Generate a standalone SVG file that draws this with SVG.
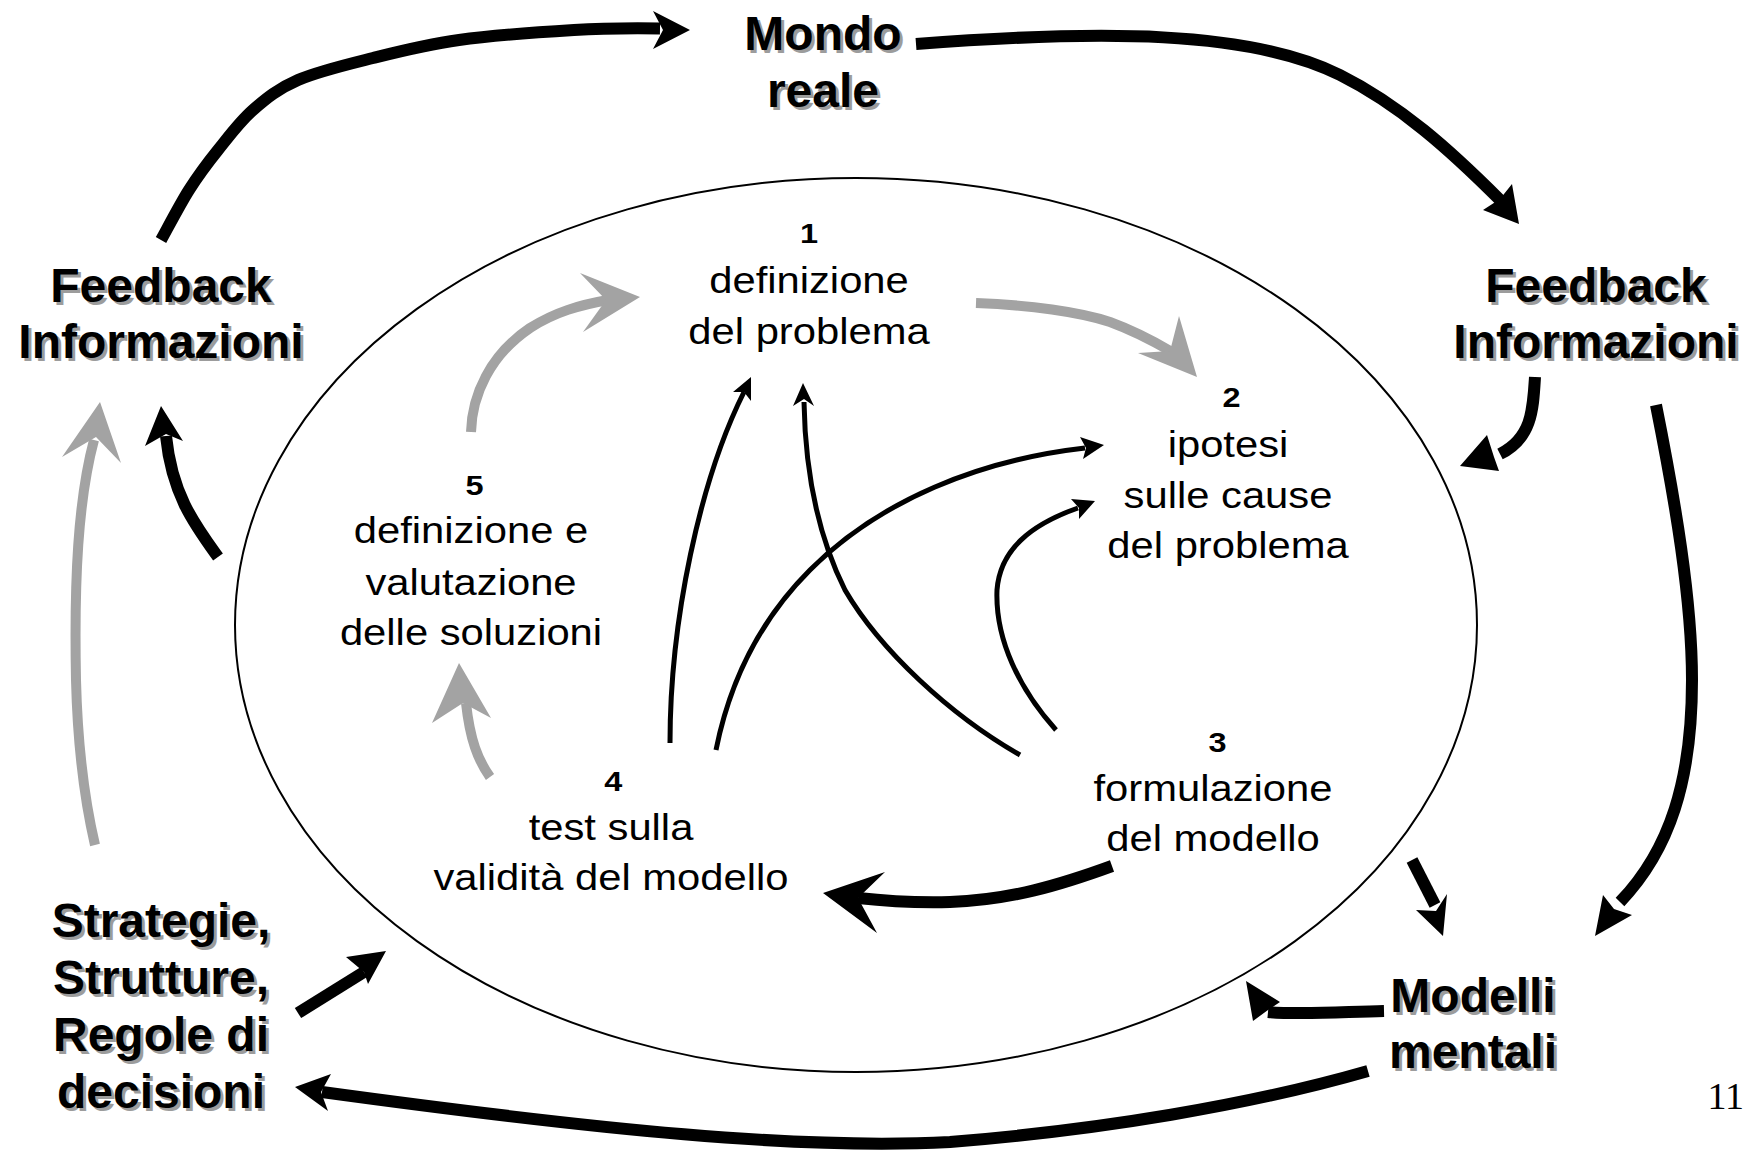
<svg xmlns="http://www.w3.org/2000/svg" width="1753" height="1150" viewBox="0 0 1753 1150">
  <style>
    .lbl { font-family: "Liberation Sans", Arial, sans-serif; font-weight: bold; font-size: 48px; text-anchor: middle; fill: #000; }
    .sh { fill: #9c9c9c; }
    .txt { font-family: "Liberation Sans", Arial, sans-serif; font-size: 36px; text-anchor: middle; fill: #000; }
    .num { font-weight: bold; font-size: 28px; }
    .blk { fill: none; stroke: #000; stroke-width: 12; }
    .gry { fill: none; stroke: #a3a3a3; stroke-width: 10; }
    .thin { fill: none; stroke: #000; stroke-width: 5; }
    .hb { fill: #000; }
    .hg { fill: #a3a3a3; }
    .pg { font-family: "Liberation Serif", "Times New Roman", serif; font-size: 38px; text-anchor: end; fill: #000; }
  </style>

  <rect width="1753" height="1150" fill="#fff"/>

  <!-- central process ellipse -->
  <ellipse id="cycle" cx="856" cy="625" rx="621" ry="447" fill="none" stroke="#000" stroke-width="2"/>

  <!-- outer labels -->
  <g id="mondo-reale">
    <text class="lbl sh" x="826" y="53">Mondo<tspan x="826" y="110">reale</tspan></text>
    <text class="lbl" x="823" y="50">Mondo<tspan x="823" y="107">reale</tspan></text>
  </g>
  <g id="feedback-left">
    <text class="lbl sh" x="164" y="305">Feedback<tspan x="164" y="361">Informazioni</tspan></text>
    <text class="lbl" x="161" y="302">Feedback<tspan x="161" y="358">Informazioni</tspan></text>
  </g>
  <g id="feedback-right">
    <text class="lbl sh" x="1599" y="305">Feedback<tspan x="1599" y="361">Informazioni</tspan></text>
    <text class="lbl" x="1596" y="302">Feedback<tspan x="1596" y="358">Informazioni</tspan></text>
  </g>
  <g id="strategie">
    <text class="lbl sh" x="164" y="940">Strategie,<tspan x="164" y="997">Strutture,</tspan><tspan x="164" y="1054">Regole di</tspan><tspan x="164" y="1111">decisioni</tspan></text>
    <text class="lbl" x="161" y="937">Strategie,<tspan x="161" y="994">Strutture,</tspan><tspan x="161" y="1051">Regole di</tspan><tspan x="161" y="1108">decisioni</tspan></text>
  </g>
  <g id="modelli-mentali">
    <text class="lbl sh" x="1476" y="1015">Modelli<tspan x="1476" y="1071">mentali</tspan></text>
    <text class="lbl" x="1473" y="1012">Modelli<tspan x="1473" y="1068">mentali</tspan></text>
  </g>

  <!-- process steps (wide Arial) -->
  <g id="step1" transform="translate(809,0)">
    <text class="txt num" transform="scale(1.16,1)" x="0" y="243">1</text>
    <text class="txt" transform="scale(1.16,1)" x="0" y="293">definizione<tspan x="0" y="344">del problema</tspan></text>
  </g>
  <g id="step2" transform="translate(1228,0)">
    <text class="txt num" transform="scale(1.16,1)" x="3" y="407">2</text>
    <text class="txt" transform="scale(1.16,1)" x="0" y="457">ipotesi<tspan x="0" y="508">sulle cause</tspan><tspan x="0" y="558">del problema</tspan></text>
  </g>
  <g id="step3" transform="translate(1213,0)">
    <text class="txt num" transform="scale(1.16,1)" x="4" y="752">3</text>
    <text class="txt" transform="scale(1.16,1)" x="0" y="801">formulazione<tspan x="0" y="851">del modello</tspan></text>
  </g>
  <g id="step4" transform="translate(611,0)">
    <text class="txt num" transform="scale(1.16,1)" x="2" y="791">4</text>
    <text class="txt" transform="scale(1.16,1)" x="0" y="840">test sulla<tspan x="0" y="890">validità del modello</tspan></text>
  </g>
  <g id="step5" transform="translate(471,0)">
    <text class="txt num" transform="scale(1.16,1)" x="3" y="495">5</text>
    <text class="txt" transform="scale(1.16,1)" x="0" y="543">definizione e<tspan x="0" y="595">valutazione</tspan><tspan x="0" y="645">delle soluzioni</tspan></text>
  </g>

  <text id="page" class="pg" x="1744" y="1109">11</text>

  <g id="connectors">
    <!-- outer loop: black -->
    <path class="blk" d="M161,240 C165.7,231.7 179.5,205 189,190 C198.5,175 207.3,163.3 218,150 C228.7,136.7 239.7,121.7 253,110 C266.3,98.3 278,88.7 298,80 C318,71.3 346.2,64.7 373,58 C399.8,51.3 425.5,44.7 459,40 C492.5,35.3 540.8,32 574,30 C607.2,28 644,28.3 660,28.5"/>
    <polygon class="hb" points="690,30 653,11 663,30 653,49"/>

    <path class="blk" stroke-width="13" d="M916,44 C1100,30 1250,30 1340,75 C1400,105 1450,150 1500,200"/>
    <polygon class="hb" points="1519,224 1483,210 1500,199 1512,184"/>

    <path class="blk" d="M1535,377 C1533,410 1532,438 1500,454"/>
    <polygon class="hb" points="1460,466 1487,435 1494,457 1499,471"/>

    <path class="blk" stroke-width="10" d="M1656,405 C1675,500 1692,600 1692,680 C1692,780 1670,850 1620,902"/>
    <polygon class="hb" points="1595,936 1603,895 1614,909 1632,915"/>

    <path class="blk" stroke-width="11" d="M1412,860 L1435,905"/>
    <polygon class="hb" points="1443,936 1416,910 1436,911 1447,894"/>

    <path class="blk" stroke-width="13" d="M1384,1011 C1340,1012 1300,1015 1268,1012"/>
    <polygon class="hb" points="1246,981 1280,1002 1268,1010 1253,1021"/>

    <path class="blk" d="M1368,1071 C1250,1105 1100,1130 950,1142 C800,1150 600,1130 322,1092"/>
    <polygon class="hb" points="295,1087 331,1074 321,1092 328,1111"/>

    <path class="blk" stroke-width="13" d="M1112,866 C1060,885 1010,900 950,902 C910,903 885,901 858,898"/>
    <polygon class="hb" points="823,893 885,872 858,898 877,933"/>

    <path class="blk" d="M298,1013 L364,972"/>
    <polygon class="hb" points="386,951 346,957 364,972 368,984"/>

    <path class="blk" stroke-width="11" d="M218,557 C195,525 172,495 166,436"/>
    <polygon class="hb" points="161,406 145,446 166,434 183,441"/>

    <!-- gray flows -->
    <path class="gry" d="M95,845 C88,815 78,760 76,680 C74,580 78,500 94,440"/>
    <polygon class="hg" points="100,402 62,457 96,437 121,463"/>

    <path class="gry" d="M471,432 C472,395 490,355 530,328 C555,312 580,305 608,300"/>
    <polygon class="hg" points="640,297 580,273 606,300 583,332"/>

    <path class="gry" d="M976,303 C1030,305 1080,312 1110,322 C1140,333 1160,345 1172,352"/>
    <polygon class="hg" points="1197,377 1138,353 1170,351 1179,316"/>

    <path class="gry" d="M490,777 C478,760 470,740 466,703"/>
    <polygon class="hg" points="459,663 432,723 463,703 491,718"/>

    <!-- inner links: thin black -->
    <path class="thin" d="M670,743 C670,620 700,480 744,392"/>
    <polygon class="hb" points="751,377 751,401 744,392 733,392"/>

    <path class="thin" d="M1020,755 C950,715 880,650 845,590 C815,530 805,460 804,402"/>
    <polygon class="hb" points="803,383 814,406 804,399 793,406"/>

    <path class="thin" d="M716,750 C730,680 760,620 810,570 C880,500 980,460 1085,448"/>
    <polygon class="hb" points="1104,445 1083,459 1086,448 1080,437"/>

    <path class="thin" d="M1056,730 C1020,690 995,640 997,590 C1000,550 1030,525 1078,508"/>
    <polygon class="hb" points="1095,501 1079,519 1079,508 1071,499"/>
  </g>
</svg>
